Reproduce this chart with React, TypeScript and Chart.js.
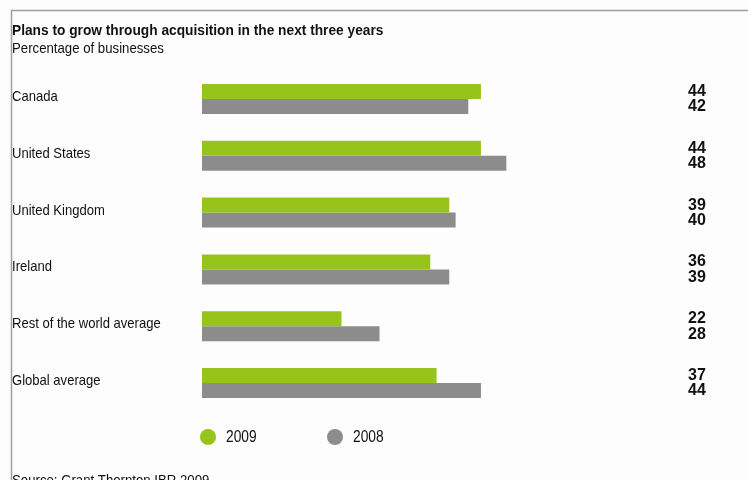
import React, { useEffect, useRef } from "react";
import { Chart, registerables } from "chart.js";

Chart.register(...registerables);

const categories = [
  "Canada",
  "United States",
  "United Kingdom",
  "Ireland",
  "Rest of the world average",
  "Global average",
];
const series2009 = [44, 44, 39, 36, 22, 37];
const series2008 = [42, 48, 40, 39, 28, 44];
const seriesLabels = ["2009", "2008"];

const GREEN = "#97c41a";
const GRAY = "#8c8c8c";
const SANS = '"Liberation Sans", Arial, sans-serif';

function narrowText(ctx: CanvasRenderingContext2D, text: string, x: number, y: number, sx: number) {
  ctx.save();
  ctx.translate(x, y);
  ctx.scale(sx, 1);
  ctx.fillText(text, 0, 0);
  ctx.restore();
}

const decor = {
  id: "decor",
  beforeDraw(chart: any) {
    const ctx = chart.ctx;
    ctx.save();
    ctx.fillStyle = "#fdfdfd";
    ctx.fillRect(0, 0, chart.width, chart.height);
    ctx.strokeStyle = "#a0a0a0";
    ctx.lineWidth = 1.5;
    ctx.beginPath();
    ctx.moveTo(11.5, chart.height);
    ctx.lineTo(11.5, 10.5);
    ctx.lineTo(chart.width, 10.5);
    ctx.stroke();
    ctx.restore();
  },
  afterDraw(chart: any) {
    const ctx = chart.ctx;
    ctx.save();
    ctx.fillStyle = "#111";
    ctx.textAlign = "left";
    ctx.textBaseline = "alphabetic";
    ctx.font = `bold 15px ${SANS}`;
    narrowText(ctx, "Plans to grow through acquisition in the next three years", 12, 35, 0.915);
    ctx.font = `15px ${SANS}`;
    narrowText(ctx, "Percentage of businesses", 12, 53, 0.88);

    const yScale = chart.scales.y;
    categories.forEach((c, i) => {
      const y = yScale.getPixelForValue(i);
      ctx.font = `15px ${SANS}`;
      ctx.fillStyle = "#111";
      ctx.textBaseline = "alphabetic";
      narrowText(ctx, c, 12, y + 2, 0.87);
    });

    ctx.font = `bold 16px ${SANS}`;
    ctx.textBaseline = "middle";
    [series2009, series2008].forEach((s, d) => {
      const meta = chart.getDatasetMeta(d);
      s.forEach((v, i) => {
        const el = meta.data[i];
        ctx.fillText(String(v), 688, el.y + (d === 0 ? 0 : 0.5));
      });
    });

    // legend
    const legendItems = [
      { x: 208, color: GREEN, label: seriesLabels[0] },
      { x: 335, color: GRAY, label: seriesLabels[1] },
    ];
    legendItems.forEach((it) => {
      ctx.fillStyle = it.color;
      ctx.beginPath();
      ctx.arc(it.x, 437, 8, 0, Math.PI * 2);
      ctx.fill();
      ctx.fillStyle = "#111";
      ctx.font = `16px ${SANS}`;
      ctx.textBaseline = "middle";
      narrowText(ctx, it.label, it.x + 18, 438, 0.86);
    });

    ctx.font = `15px ${SANS}`;
    ctx.textBaseline = "alphabetic";
    narrowText(ctx, "Source: Grant Thornton IBR 2009", 12, 485, 0.88);
    ctx.restore();
  },
};

export default function App() {
  const ref = useRef<HTMLCanvasElement | null>(null);
  useEffect(() => {
    if (!ref.current) return;
    const chart = new Chart(ref.current, {
      type: "bar",
      data: {
        labels: categories,
        datasets: [
          { label: seriesLabels[0], data: series2009, backgroundColor: GREEN, categoryPercentage: 0.528, barPercentage: 1 },
          { label: seriesLabels[1], data: series2008, backgroundColor: GRAY, categoryPercentage: 0.528, barPercentage: 1 },
        ],
      },
      options: {
        indexAxis: "y",
        animation: false,
        responsive: false,
        maintainAspectRatio: false,
        layout: { padding: { left: 202, right: 229, top: 70.6, bottom: 68.6 } },
        scales: {
          x: { display: false, min: 0, max: 50 },
          y: { display: false },
        },
        plugins: { legend: { display: false }, tooltip: { enabled: false }, title: { display: false } },
      },
      plugins: [decor],
    } as any);
    return () => chart.destroy();
  }, []);
  return (
    <div style={{ position: "absolute", left: 0, top: 0, width: 748, height: 480 }}>
      <canvas ref={ref} width={748} height={480} style={{ display: "block" }} />
    </div>
  );
}
